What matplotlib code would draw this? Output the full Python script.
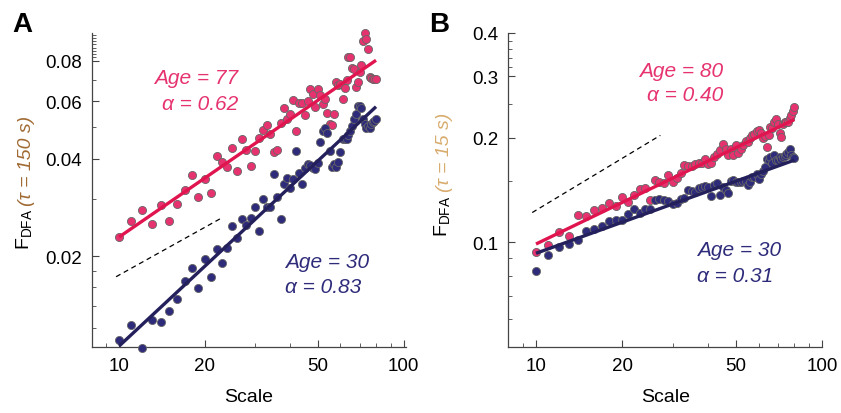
import numpy as np
import matplotlib
matplotlib.use('Agg')
import matplotlib.pyplot as plt
from matplotlib.ticker import NullFormatter

plt.rcParams['font.family'] = ['Liberation Sans', 'DejaVu Sans']
plt.rcParams['mathtext.fontset'] = 'custom'
plt.rcParams['mathtext.rm'] = 'Liberation Sans'

# scales (window sizes) used by the DFA
scales = np.arange(10, 81)

# panel A, tau = 150 s
fdfa_a_old = [0.0229, 0.0256, 0.0278, 0.0252, 0.0287, 0.0256, 0.0289, 0.0319, 0.0356, 0.0304,
              0.0346, 0.0314, 0.0406, 0.0391, 0.0377, 0.0432, 0.0365, 0.0458, 0.0424, 0.0379,
              0.0422, 0.0462, 0.0490, 0.0506, 0.0477, 0.0419, 0.0425, 0.0516, 0.0572, 0.0531,
              0.0547, 0.0606, 0.0486, 0.0595, 0.0592, 0.0545, 0.0603, 0.0657, 0.0631, 0.0575,
              0.0654, 0.0627, 0.0588, 0.0609, 0.0554, 0.0512, 0.0506, 0.0550, 0.0690, 0.0673,
              0.0677, 0.0609, 0.0659, 0.0700, 0.0825, 0.0825, 0.0763, 0.0757, 0.0666, 0.0689,
              0.0741, 0.0779, 0.0920, 0.0973, 0.0935, 0.0869, 0.0714, 0.0709, 0.0705, 0.0705,
              0.0705]
fdfa_a_young = [0.0110, 0.01225, 0.01042, 0.01266, 0.01251, 0.01353, 0.01477, 0.01674, 0.01832, 0.01593,
                0.01953, 0.01727, 0.02097, 0.01898, 0.02112, 0.02476, 0.02278, 0.02596, 0.02488, 0.0262,
                0.0284, 0.02394, 0.02992, 0.0284, 0.0283, 0.0359, 0.03034, 0.02596, 0.03344, 0.0349,
                0.0325, 0.03448, 0.04208, 0.03616, 0.03344, 0.03748, 0.03838, 0.0381, 0.03748, 0.0372,
                0.03884, 0.04496, 0.04862, 0.04978, 0.04806, 0.0422, 0.03774, 0.03838, 0.03774, 0.0390,
                0.04188, 0.04582, 0.04604, 0.04582, 0.04714, 0.04862, 0.05038, 0.05308, 0.05474, 0.05808,
                0.05808, 0.0574, 0.05308, 0.05098, 0.04978, 0.05038, 0.04978, 0.05098, 0.05184, 0.0522,
                0.05282]

# panel B, tau = 15 s
fdfa_b_old = [0.0941, 0.0983, 0.1073, 0.1042, 0.1202, 0.1191, 0.1236, 0.1253, 0.1297, 0.1269,
              0.1349, 0.1303, 0.1367, 0.1422, 0.1434, 0.1323, 0.1512, 0.1489, 0.1479, 0.1562,
              0.1489, 0.1528, 0.1586, 0.1664, 0.1653, 0.1653, 0.1679, 0.1687, 0.1690, 0.1731,
              0.1679, 0.1687, 0.1754, 0.1793, 0.1841, 0.1914, 0.1861, 0.1785, 0.1853, 0.1785,
              0.1906, 0.1801, 0.1853, 0.1906, 0.1957, 0.1949, 0.1991, 0.2035, 0.2053, 0.2089,
              0.2098, 0.2062, 0.2000, 0.2022, 0.1882, 0.2031, 0.2145, 0.2127, 0.2217, 0.2256,
              0.2193, 0.2067, 0.2009, 0.2183, 0.2212, 0.2222, 0.2222, 0.2280, 0.2321, 0.2382,
              0.2451]
fdfa_b_young = [0.0829, 0.0920, 0.0968, 0.0987, 0.1015, 0.1077, 0.1089, 0.1113, 0.1152, 0.1158,
                0.1163, 0.1209, 0.1247, 0.1215, 0.1250, 0.1250, 0.1326, 0.1331, 0.1320, 0.1311,
                0.1291, 0.1297, 0.1335, 0.1341, 0.1410, 0.1404, 0.1394, 0.1434, 0.1440, 0.1453,
                0.1447, 0.1355, 0.1466, 0.1485, 0.1364, 0.1440, 0.1410, 0.1382, 0.1504, 0.1512,
                0.1495, 0.1489, 0.1489, 0.1504, 0.1504, 0.1457, 0.1489, 0.1538, 0.1545, 0.1573,
                0.1522, 0.1573, 0.1607, 0.1643, 0.1735, 0.1724, 0.1754, 0.1687, 0.1785, 0.1724,
                0.1724, 0.1754, 0.1735, 0.1754, 0.1773, 0.1793, 0.1813, 0.1861, 0.1785, 0.1762,
                0.1746]

# fitted power laws, end points at scale 10 and 80
fit_x = [10, 80]
fit_a_old = [0.0229, 0.0804]
fit_a_young = [0.01055, 0.0578]
fit_b_old = [0.0989, 0.2256]
fit_b_young = [0.0930, 0.1724]

# slope 0.5 guide lines
guide_a_x = [9.76, 23.0]
guide_a_y = [0.01727, 0.02626]
guide_b_x = [9.7, 27.2]
guide_b_y = [0.1218, 0.2031]

pink_dot = '#E6336F'
pink_line = '#E0154F'
blue_dot = '#2E2B7A'
blue_line = '#24205C'
edge = '#666666'


def style_axis(ax, xlim, ylim, yticks, yminor):
    ax.set_xscale('log')
    ax.set_yscale('log')
    ax.set_xlim(*xlim)
    ax.set_ylim(*ylim)
    ax.set_xticks([10, 20, 50, 100])
    ax.set_xticklabels(['10', '20', '50', '100'])
    ax.set_xticks([9, 30, 40, 60, 70, 80, 90], minor=True)
    ax.xaxis.set_minor_formatter(NullFormatter())
    ax.set_yticks(yticks)
    ax.set_yticklabels([str(t) for t in yticks])
    ax.set_yticks(yminor, minor=True)
    ax.yaxis.set_minor_formatter(NullFormatter())
    ax.spines['top'].set_visible(False)
    ax.spines['right'].set_visible(False)
    for s in ['left', 'bottom']:
        ax.spines[s].set_color('#444444')
        ax.spines[s].set_linewidth(0.9)
    ax.tick_params(which='major', direction='in', length=5, width=0.8, color='#444444',
                   labelsize=13.5, pad=7)
    ax.tick_params(which='minor', direction='in', length=3, width=0.6, color='#444444')
    ax.set_xlabel('Scale', fontsize=14, labelpad=10)


def draw(ax, old, young, f_old, f_young, gx, gy):
    ax.plot(gx, gy, color='black', lw=0.9, dashes=(4, 3))
    ax.scatter(scales, old, s=34, color=pink_dot, edgecolor=edge, linewidth=0.6, zorder=3, clip_on=False)
    ax.scatter(scales, young, s=34, color=blue_dot, edgecolor=edge, linewidth=0.6, zorder=3, clip_on=False)
    ax.plot(fit_x, f_old, color=pink_line, lw=2.4, zorder=4, solid_capstyle='butt')
    ax.plot(fit_x, f_young, color=blue_line, lw=2.4, zorder=4, solid_capstyle='butt')


fig = plt.figure(figsize=(8.41, 4.14), dpi=100)
ax1 = fig.add_axes([0.1094, 0.1594, 0.3734, 0.7585])
ax2 = fig.add_axes([0.604, 0.1594, 0.374, 0.7585])

draw(ax1, fdfa_a_old, fdfa_a_young, fit_a_old, fit_a_young, guide_a_x, guide_a_y)
style_axis(ax1, (8.03, 102), (0.01048, 0.0976), [0.02, 0.04, 0.06, 0.08],
           [0.012, 0.014, 0.016, 0.018, 0.03, 0.05, 0.07,
            0.082, 0.084, 0.086, 0.088, 0.09, 0.092, 0.094, 0.096])

draw(ax2, fdfa_b_old, fdfa_b_young, fit_b_old, fit_b_young, guide_b_x, guide_b_y)
style_axis(ax2, (7.98, 100.3), (0.05, 0.398), [0.1, 0.2, 0.3, 0.4],
           [0.06, 0.07, 0.08, 0.09, 0.15, 0.25, 0.32, 0.34, 0.36, 0.38])

# annotations
txt = dict(fontsize=15, style='italic', va='center')
ax1.text(0.465, 0.857, 'Age = 77', color=pink_dot, ha='right', transform=ax1.transAxes, **txt)
ax1.text(0.465, 0.777, 'α = 0.62', color=pink_dot, ha='right', transform=ax1.transAxes, **txt)
ax1.text(0.615, 0.271, 'Age = 30', color=blue_dot, ha='left', transform=ax1.transAxes, **txt)
ax1.text(0.615, 0.194, 'α = 0.83', color=blue_dot, ha='left', transform=ax1.transAxes, **txt)

ax2.text(0.683, 0.882, 'Age = 80', color=pink_dot, ha='right', transform=ax2.transAxes, **txt)
ax2.text(0.683, 0.803, 'α = 0.40', color=pink_dot, ha='right', transform=ax2.transAxes, **txt)
ax2.text(0.601, 0.312, 'Age = 30', color=blue_dot, ha='left', transform=ax2.transAxes, **txt)
ax2.text(0.601, 0.229, 'α = 0.31', color=blue_dot, ha='left', transform=ax2.transAxes, **txt)

# y labels in two colours
fig.canvas.draw()
for x0, y0, tau, col in [(0.0297, 0.396, '(τ = 150 s)', '#A06A33'),
                         (0.527, 0.428, '(τ = 15 s)', '#D8AC6E')]:
    t1 = fig.text(x0, y0, r'F$_{\mathregular{DFA}}$', fontsize=14, rotation=90,
                  ha='center', va='bottom')
    fig.canvas.draw()
    bb = t1.get_window_extent()
    fig.text(x0 + 0.002, (bb.y1 + 3) / fig.bbox.height, tau, fontsize=14, rotation=90,
             style='italic', color=col, ha='center', va='bottom')

fig.text(0.015, 0.972, 'A', fontsize=20, weight='bold', va='top')
fig.text(0.510, 0.972, 'B', fontsize=20, weight='bold', va='top')

plt.savefig('out.png', dpi=100)
